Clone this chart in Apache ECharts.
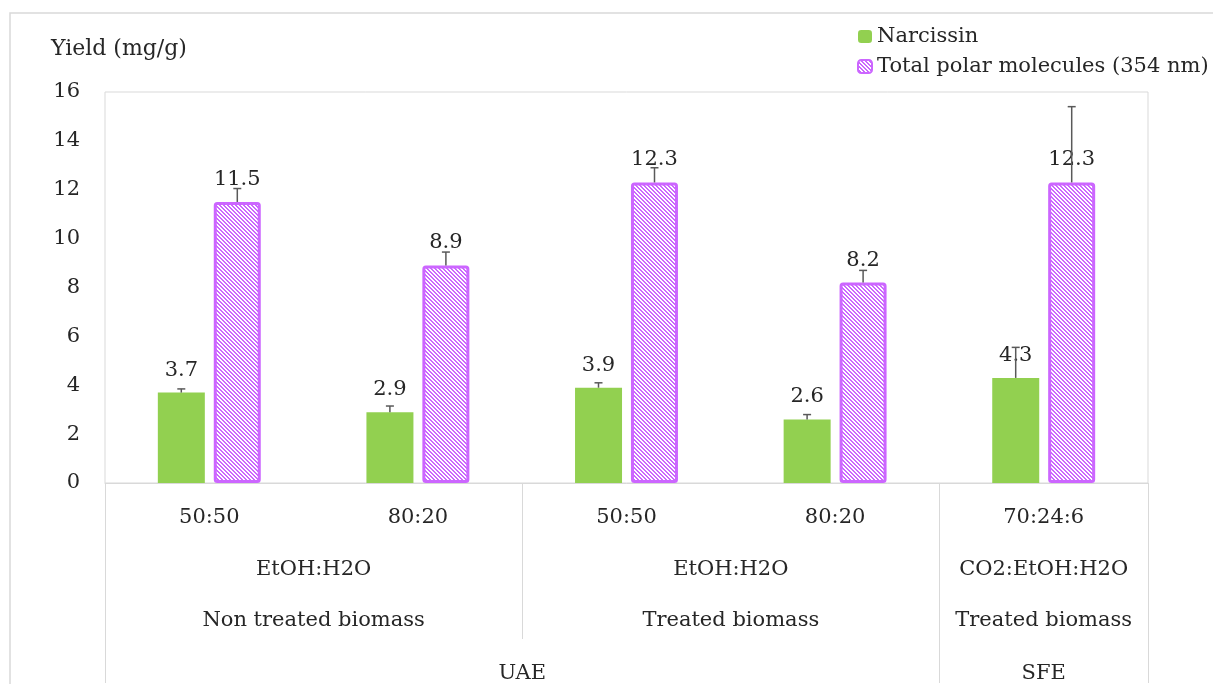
<!DOCTYPE html>
<html>
<head>
<meta charset="utf-8">
<script src="https://cdn.jsdelivr.net/npm/echarts@6/dist/echarts.min.js"></script>
<style>
    html, body { margin: 0; padding: 0; background: #fff; }
    #chart { width: 1213px; height: 684px; }
</style>
</head>
<body>
<div id="chart"></div>
<script>
// values
var ratios = ['50:50', '80:20', '50:50', '80:20', '70:24:6'];
var narcissin = [3.7, 2.9, 3.9, 2.6, 4.3];
var narcissinErr = [0.15, 0.25, 0.2, 0.2, 1.25];
var polar = [11.5, 8.9, 12.3, 8.2, 12.3];
var polarErr = [0.55, 0.55, 0.6, 0.5, 3.1];

// grouping rows under the ratios (label, number of categories spanned)
var solventLabels = ['EtOH:H2O', 'EtOH:H2O', 'CO2:EtOH:H2O'];
var solventSpans = [2, 2, 1];
var biomassLabels = ['Non treated biomass', 'Treated biomass', 'Treated biomass'];
var biomassSpans = [2, 2, 1];
var methodLabels = ['UAE', 'SFE'];
var methodSpans = [4, 1];

var yTicks = [0, 2, 4, 6, 8, 10, 12, 14, 16];

var GREEN = '#92D050';
var PURPLE = '#CC66FF';
var GRID_LINE = '#d9d9d9';
var TEXT = '#262626';
var FONT = 'DejaVu Serif';
var FS = 21;

// half-category slots: boundary of category k is slot 2k, centre is 2k+1
var slotCount = ratios.length * 2 + 1;

function groupSlots(labels, spans) {
    var slots = [];
    for (var i = 0; i < slotCount; i++) slots.push('');
    var bounds = [0];
    var start = 0;
    labels.forEach(function (label, i) {
        slots[2 * start + spans[i]] = label;
        start += spans[i];
        bounds.push(2 * start);
    });
    return { slots: slots, bounds: bounds };
}

var solventRow = groupSlots(solventLabels, solventSpans);
var biomassRow = groupSlots(biomassLabels, biomassSpans);
var methodRow = groupSlots(methodLabels, methodSpans);

// hatched fill for the second series: crisp 2px white diagonals on purple
function makeHatch() {
    var c = document.createElement('canvas');
    c.width = 4;
    c.height = 4;
    var ctx = c.getContext('2d');
    ctx.fillStyle = PURPLE;
    ctx.fillRect(0, 0, 4, 4);
    ctx.fillStyle = '#ffffff';
    for (var y = 0; y < 4; y++) {
        ctx.fillRect(y, y, 1, 1);
        ctx.fillRect((y + 1) % 4, y, 1, 1);
    }
    return c;
}
var hatch = { image: makeHatch(), repeat: 'repeat' };

var BAR_W = 47;
var BAR_OFFSET = 28;

function errorSeries(values, errs, offset) {
    return {
        type: 'custom',
        z: 5,
        silent: true,
        renderItem: function (params, api) {
            var top = api.coord([api.value(0), api.value(1)]);
            var end = api.coord([api.value(0), api.value(1) + api.value(2)]);
            var x = top[0] + offset;
            var style = { stroke: '#595959', lineWidth: 1.5 };
            return {
                type: 'group',
                children: [
                    { type: 'line', shape: { x1: x, y1: top[1], x2: x, y2: end[1] }, style: style },
                    { type: 'line', shape: { x1: x - 4, y1: end[1], x2: x + 4, y2: end[1] }, style: style }
                ]
            };
        },
        data: values.map(function (v, i) { return [i, v, errs[i]]; })
    };
}

function rowAxis(row, margin, tickLen, tickBounds) {
    return {
        type: 'category',
        position: 'bottom',
        boundaryGap: false,
        data: row.slots,
        axisLine: { show: false },
        axisTick: {
            show: tickLen > 0,
            length: tickLen,
            interval: function (index) { return tickBounds.indexOf(index) >= 0; },
            lineStyle: { color: GRID_LINE, width: 1 }
        },
        axisLabel: {
            interval: 0,
            margin: margin,
            color: TEXT,
            fontFamily: FONT,
            fontSize: FS
        },
        splitLine: { show: false }
    };
}

// short separators: solvent boundaries that are not method boundaries
var shortBounds = solventRow.bounds.filter(function (b) { return methodRow.bounds.indexOf(b) < 0; });

var chart = echarts.init(document.getElementById('chart'));

var option = {
    animation: false,
    backgroundColor: '#fff',
    graphic: [{
        type: 'rect',
        shape: { x: 10, y: 13, width: 1400, height: 900 },
        style: { fill: 'none', stroke: GRID_LINE, lineWidth: 1.5 },
        silent: true
    }],
    title: {
        text: 'Yield (mg/g)',
        left: 46,
        top: 33,
        textStyle: { fontFamily: FONT, fontSize: 22, fontWeight: 'normal', color: TEXT }
    },
    legend: {
        orient: 'vertical',
        left: 852,
        top: 21,
        itemWidth: 14,
        itemHeight: 13,
        itemGap: 9,
        textStyle: { fontFamily: FONT, fontSize: FS, color: TEXT },
        data: ['Narcissin', 'Total polar molecules (354 nm)']
    },
    grid: {
        left: 105,
        right: 65,
        top: 92,
        bottom: 200,
        show: true,
        borderColor: GRID_LINE,
        borderWidth: 1
    },
    xAxis: [
        {
            type: 'category',
            data: ratios,
            axisLine: { lineStyle: { color: GRID_LINE } },
            axisTick: { show: false },
            axisLabel: { margin: 24, color: TEXT, fontFamily: FONT, fontSize: FS }
        },
        rowAxis(solventRow, 76, 156, shortBounds),
        rowAxis(biomassRow, 127, 0, []),
        rowAxis(methodRow, 180, 200, methodRow.bounds)
    ],
    yAxis: {
        type: 'value',
        min: yTicks[0],
        max: yTicks[yTicks.length - 1],
        interval: yTicks[1] - yTicks[0],
        axisLine: { show: false },
        axisTick: { show: false },
        splitLine: { show: false },
        axisLabel: { margin: 25, color: TEXT, fontFamily: FONT, fontSize: FS }
    },
    series: [
        {
            name: 'Narcissin',
            type: 'bar',
            barWidth: BAR_W,
            barGap: '19%',
            data: narcissin,
            itemStyle: { color: GREEN },
            label: {
                show: true,
                position: 'top',
                distance: 12,
                color: TEXT,
                fontFamily: FONT,
                fontSize: FS
            }
        },
        {
            name: 'Total polar molecules (354 nm)',
            type: 'bar',
            barWidth: BAR_W,
            data: polar,
            itemStyle: { color: hatch, borderColor: PURPLE, borderWidth: 3, borderRadius: 2 },
            label: {
                show: true,
                position: 'top',
                distance: 12,
                color: TEXT,
                fontFamily: FONT,
                fontSize: FS
            }
        },
        errorSeries(narcissin, narcissinErr, -BAR_OFFSET),
        errorSeries(polar, polarErr, BAR_OFFSET)
    ]
};

chart.setOption(option);
</script>
</body>
</html>
